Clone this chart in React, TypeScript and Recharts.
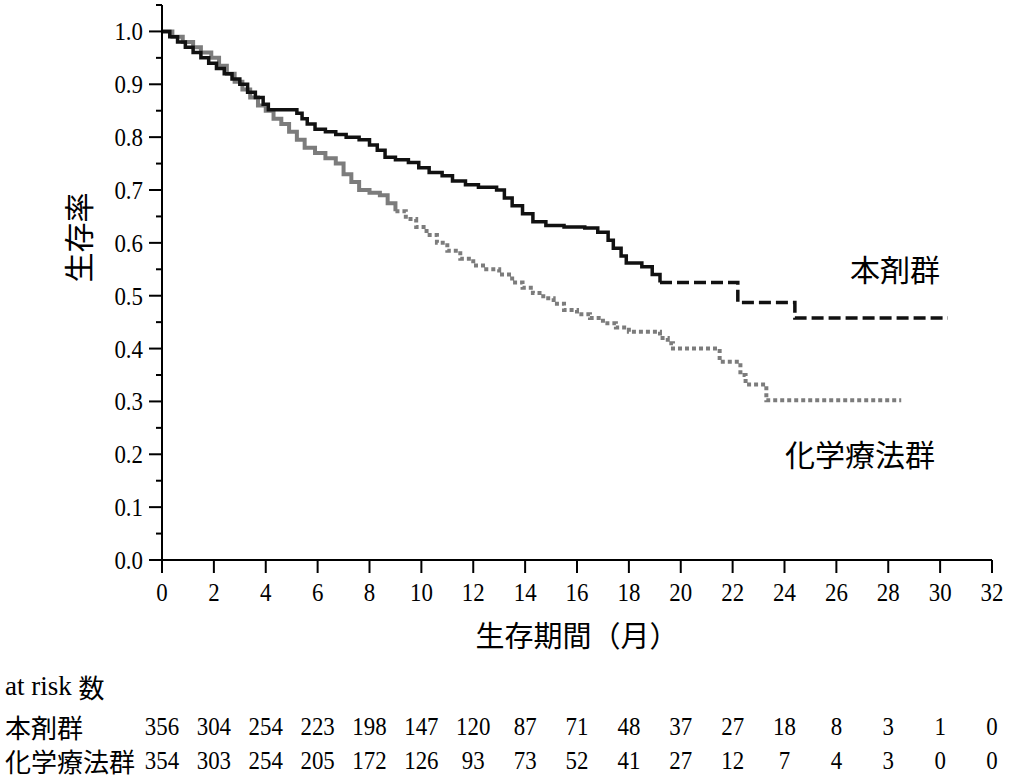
import React from 'react';
import { LineChart, Line, XAxis, YAxis } from 'recharts';

// Kaplan-Meier curves (months, survival)
const drugTimes = [0, 0.3, 0.6, 0.9, 1.2, 1.5, 1.8, 2.1, 2.4, 2.7, 3.0, 3.3, 3.6, 3.9, 4.1, 5.2, 5.4, 5.6, 5.9, 6.3, 6.7, 7.1, 7.6, 8.0, 8.3, 8.6, 9.0, 9.5, 9.9, 10.3, 10.8, 11.2, 11.7, 12.2, 12.9, 13.2, 13.5, 13.9, 14.3, 14.8, 15.5, 16.3, 16.8, 17.2, 17.4, 17.7, 17.9, 18.5, 18.9, 19.2, 21.9, 22.2, 24.4, 30.3];
const drugSurv = [1.0, 0.99, 0.98, 0.97, 0.96, 0.95, 0.94, 0.93, 0.92, 0.91, 0.90, 0.885, 0.875, 0.862, 0.852, 0.845, 0.835, 0.825, 0.815, 0.81, 0.805, 0.80, 0.795, 0.785, 0.775, 0.762, 0.757, 0.752, 0.742, 0.733, 0.727, 0.717, 0.71, 0.705, 0.70, 0.685, 0.67, 0.655, 0.64, 0.633, 0.63, 0.628, 0.62, 0.605, 0.59, 0.575, 0.562, 0.555, 0.54, 0.525, 0.525, 0.487, 0.458, 0.458];

const chemoTimes = [0, 0.4, 0.8, 1.2, 1.5, 1.9, 2.2, 2.5, 2.8, 3.1, 3.4, 3.7, 4.0, 4.3, 4.6, 4.9, 5.2, 5.5, 5.9, 6.3, 6.7, 7.0, 7.3, 7.6, 8.0, 8.4, 8.7, 9.0, 9.4, 9.8, 10.2, 10.6, 11.0, 11.5, 12.0, 12.5, 13.0, 13.5, 13.9, 14.3, 14.7, 15.1, 15.5, 16.0, 16.5, 17.0, 17.5, 18.0, 19.2, 19.5, 19.7, 21.5, 22.3, 22.5, 23.3, 28.5];
const chemoSurv = [1.0, 0.99, 0.98, 0.97, 0.96, 0.95, 0.935, 0.92, 0.905, 0.89, 0.875, 0.86, 0.85, 0.835, 0.825, 0.81, 0.795, 0.78, 0.77, 0.76, 0.75, 0.73, 0.715, 0.70, 0.695, 0.69, 0.675, 0.66, 0.645, 0.63, 0.615, 0.60, 0.585, 0.57, 0.557, 0.55, 0.54, 0.525, 0.515, 0.505, 0.495, 0.485, 0.473, 0.465, 0.458, 0.448, 0.44, 0.432, 0.42, 0.41, 0.40, 0.375, 0.35, 0.332, 0.302, 0.302];

const xTicks = [0, 2, 4, 6, 8, 10, 12, 14, 16, 18, 20, 22, 24, 26, 28, 30, 32];
const yTicks = [0, 0.05, 0.1, 0.15, 0.2, 0.25, 0.3, 0.35, 0.4, 0.45, 0.5, 0.55, 0.6, 0.65, 0.7, 0.75, 0.8, 0.85, 0.9, 0.95, 1.0, 1.05];

const drugAtRisk = [356, 304, 254, 223, 198, 147, 120, 87, 71, 48, 37, 27, 18, 8, 3, 1, 0];
const chemoAtRisk = [354, 303, 254, 205, 172, 126, 93, 73, 52, 41, 27, 12, 7, 4, 3, 0, 0];

const FONT = "'Liberation Serif', 'Noto Sans CJK JP', serif";
const CJK = "'Noto Sans CJK JP', 'Liberation Serif', sans-serif";

const toPoints = (times: number[], surv: number[]) => times.map((t, i) => ({ t, s: surv[i] }));
const drugAll = toPoints(drugTimes, drugSurv);
const chemoAll = toPoints(chemoTimes, chemoSurv);
// solid part and censor-heavy tail drawn broken
const drugHead = drugAll.filter(p => p.t <= 19.2);
const drugTail = drugAll.filter(p => p.t >= 19.2);
const chemoHead = chemoAll.filter(p => p.t <= 9.0);
const chemoTail = chemoAll.filter(p => p.t >= 9.0);

// narrow serif digits like the original typesetting
const NarrowText = ({ x, y, anchor, children }: any) => (
    <text
        transform={`translate(${x},${y}) scale(0.88,1)`}
        textAnchor={anchor}
        dominantBaseline="central"
        fontSize={26}
        fontFamily={FONT}
        fill="#000"
    >
        {children}
    </text>
);

const YTick = (props: any) => {
    const { x, y, payload } = props;
    const v = payload.value;
    const major = Math.round(v * 100) % 10 === 0;
    return (
        <g>
            <line x1={x - (major ? 13 : 6)} x2={x} y1={y} y2={y} stroke="#000" strokeWidth={2} />
            {major && <NarrowText x={x - 19} y={y} anchor="end">{v.toFixed(1)}</NarrowText>}
        </g>
    );
};

const XTick = (props: any) => {
    const { x, y, payload } = props;
    return (
        <g>
            <line x1={x} x2={x} y1={y} y2={y + 13} stroke="#000" strokeWidth={2} />
            <NarrowText x={x} y={y + 32} anchor="middle">{payload.value}</NarrowText>
        </g>
    );
};

const riskTick = (values: number[]) => (props: any) => {
    const { x, y, payload, index } = props;
    const i = index !== undefined ? index : xTicks.indexOf(payload.value);
    return <NarrowText x={x} y={y + 16} anchor="middle">{values[i]}</NarrowText>;
};

export default function App() {
    return (
        <div style={{ position: 'absolute', left: 0, top: 0, width: 1010, height: 780, background: '#fff' }}>
            <LineChart width={1010} height={780} margin={{ top: 5, right: 18, left: 0, bottom: 2 }}>
                <XAxis
                    xAxisId="main"
                    dataKey="t"
                    type="number"
                    domain={[0, 32]}
                    ticks={xTicks}
                    allowDataOverflow
                    height={150}
                    tickSize={0}
                    tickMargin={0}
                    tickLine={false}
                    axisLine={{ stroke: '#000', strokeWidth: 2 }}
                    tick={<XTick />}
                    interval={0}
                    label={{ value: '生存期間（月）', position: 'insideTop', offset: 66, fontSize: 29, fontFamily: CJK, fill: '#000' }}
                />
                <XAxis
                    xAxisId="risk1"
                    dataKey="t"
                    type="number"
                    domain={[0, 32]}
                    ticks={xTicks}
                    allowDataOverflow
                    height={34}
                    tickSize={0}
                    tickMargin={0}
                    tickLine={false}
                    axisLine={false}
                    interval={0}
                    tick={riskTick(drugAtRisk)}
                />
                <XAxis
                    xAxisId="risk2"
                    dataKey="t"
                    type="number"
                    domain={[0, 32]}
                    ticks={xTicks}
                    allowDataOverflow
                    height={34}
                    tickSize={0}
                    tickMargin={0}
                    tickLine={false}
                    axisLine={false}
                    interval={0}
                    tick={riskTick(chemoAtRisk)}
                />
                <YAxis
                    type="number"
                    domain={[0, 1.05]}
                    ticks={yTicks}
                    allowDataOverflow
                    width={162}
                    tickSize={0}
                    tickMargin={0}
                    tickLine={false}
                    interval={0}
                    axisLine={{ stroke: '#000', strokeWidth: 2 }}
                    tick={<YTick />}
                    label={{ value: '生存率', angle: -90, position: 'insideLeft', offset: 79, fontSize: 30, fontFamily: CJK, fill: '#000' }}
                />
                {/* 化学療法群 */}
                <Line xAxisId="main" data={chemoHead} dataKey="s" type="stepAfter" stroke="#7c7c7c" strokeWidth={4} dot={false} isAnimationActive={false} />
                <Line xAxisId="main" data={chemoTail} dataKey="s" type="stepAfter" stroke="#7c7c7c" strokeWidth={4} strokeDasharray="4 3" dot={false} isAnimationActive={false} />
                {/* 本剤群 */}
                <Line xAxisId="main" data={drugHead} dataKey="s" type="stepAfter" stroke="#111" strokeWidth={3.5} dot={false} isAnimationActive={false} />
                <Line xAxisId="main" data={drugTail} dataKey="s" type="stepAfter" stroke="#111" strokeWidth={3.5} strokeDasharray="12 5" dot={false} isAnimationActive={false} />
            </LineChart>
            <svg width={1010} height={780} style={{ position: 'absolute', left: 0, top: 0, pointerEvents: 'none' }}>
                <text x={850} y={268} dominantBaseline="central" fontSize={30} fontFamily={CJK} fill="#000">本剤群</text>
                <text x={785} y={453} dominantBaseline="central" fontSize={30} fontFamily={CJK} fill="#000">化学療法群</text>
                <text x={5} y={686} dominantBaseline="central" fontSize={27} fontFamily={FONT} fill="#000">
                    at risk <tspan fontFamily={CJK} fontSize={26}>数</tspan>
                </text>
                <text x={5} y={726} dominantBaseline="central" fontSize={26} fontFamily={CJK} fill="#000">本剤群</text>
                <text x={5} y={760} dominantBaseline="central" fontSize={26} fontFamily={CJK} fill="#000">化学療法群</text>
            </svg>
        </div>
    );
}
